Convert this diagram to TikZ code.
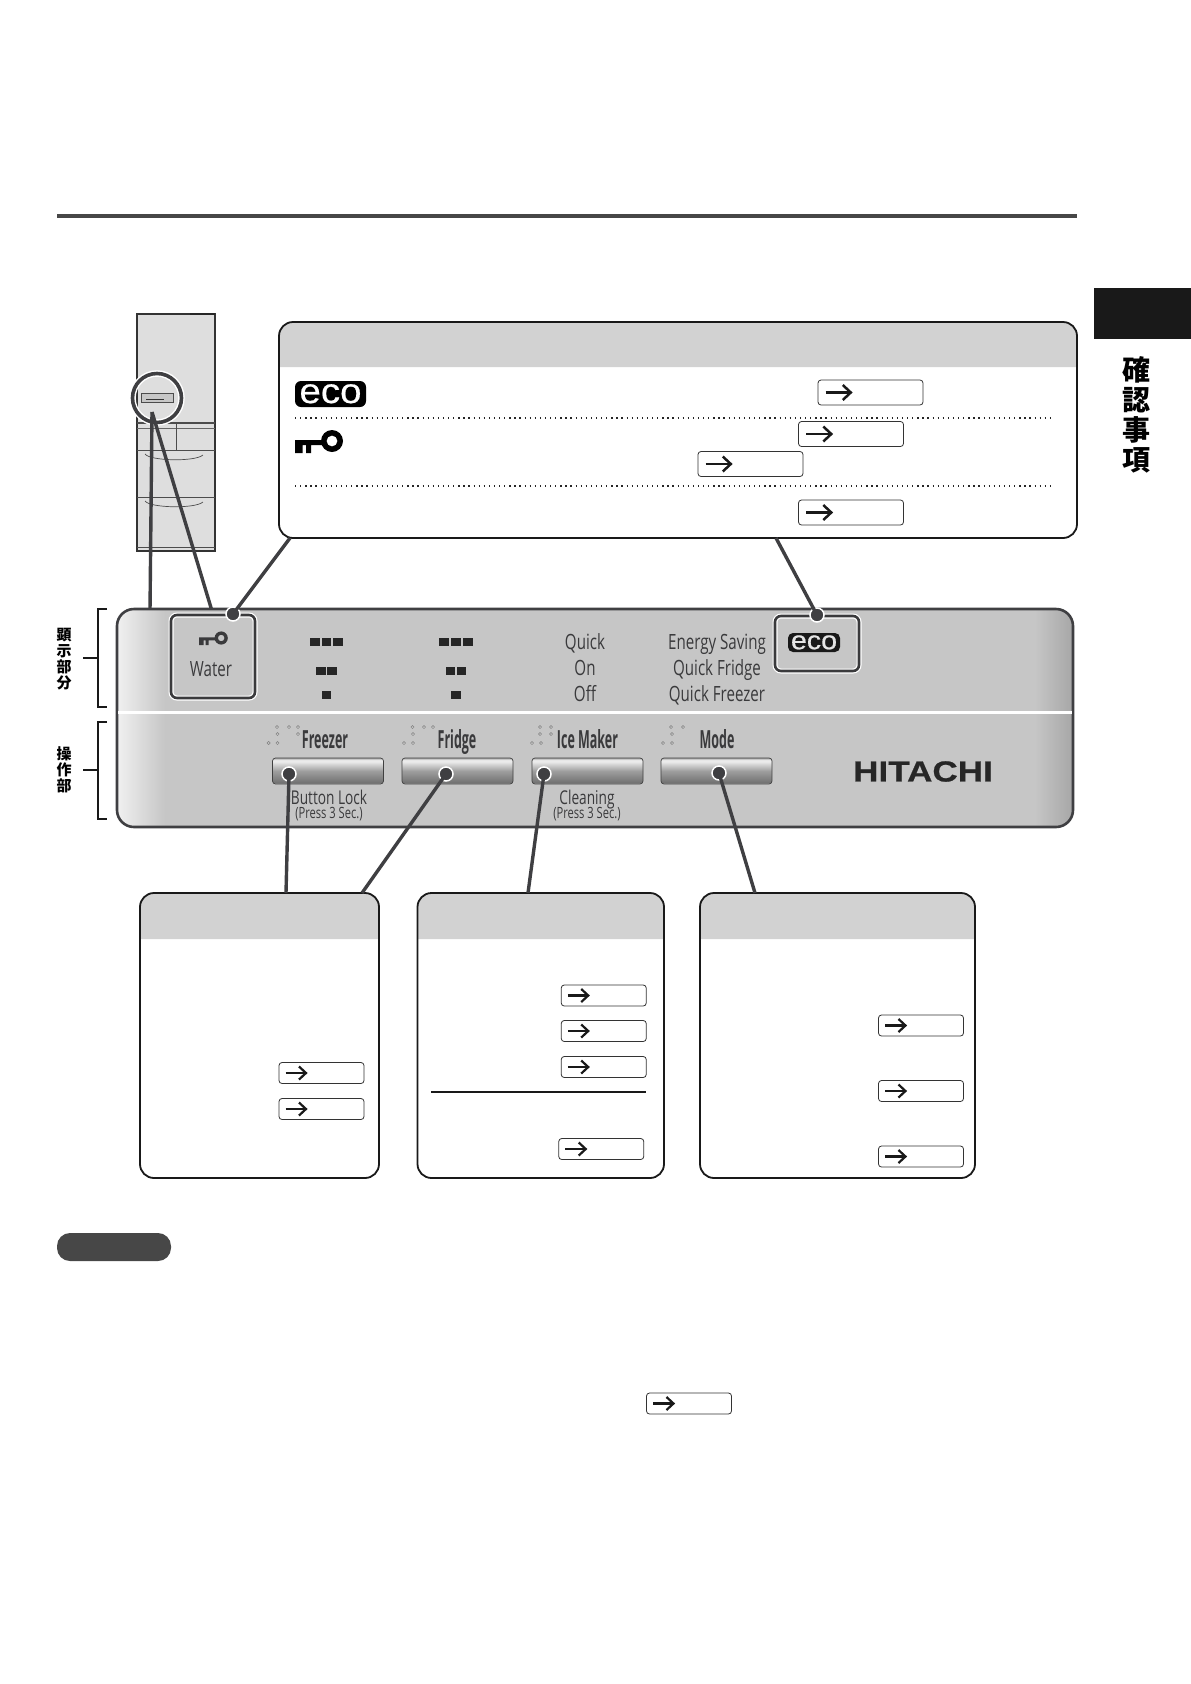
\documentclass[tikz,border=0pt]{standalone}
\usepackage{fontspec}
\usepackage{tikz}
\usetikzlibrary{arrows.meta}

\newfontfamily\panelfont[FakeStretch=0.72]{Open Sans}
\newfontfamily\buttonfont[FakeStretch=0.5]{Open Sans}
\newfontfamily\logofont[FakeStretch=1.21,FakeBold=0.6]{Liberation Sans}
\newfontfamily\ecofont[FakeStretch=1.1,FakeBold=0.5]{Liberation Sans}
\newfontfamily\cjkfont{Noto Sans CJK JP}

\definecolor{headgray}{HTML}{D2D2D2}
\definecolor{leadgray}{HTML}{3F3F42}
\definecolor{panelgray}{HTML}{C6C6C6}
\definecolor{inkgray}{HTML}{3A3A3C}

\pgfdeclarehorizontalshading{panelshade}{100bp}{color(0bp)=(white!75!panelgray); color(25bp)=(white!75!panelgray); color(27.5bp)=(panelgray); color(73bp)=(panelgray); color(75bp)=(black!16!panelgray); color(100bp)=(black!16!panelgray)}
\pgfdeclareverticalshading{buttonshade}{100bp}{color(0bp)=(black!20); color(25bp)=(black!20); color(28bp)=(black!55); color(50bp)=(black!38); color(68bp)=(black!8); color(71bp)=(black!8); color(75bp)=(black!35); color(100bp)=(black!35)}

\tikzset{
  calloutbox/.style={draw=black!90, line width=1.8pt, rounded corners=14pt, inner sep=0pt, outer sep=0pt},
  refbox/.style={draw=black!80, line width=0.8pt, rounded corners=3pt, fill=white, inner sep=0pt, minimum width=85pt, minimum height=21pt},
  bigrefbox/.style={refbox, minimum width=105pt, minimum height=25pt},
  refarrow/.style={-{Straight Barb[length=7pt,width=13pt,line width=2.2pt]}, line width=2.3pt, black!90},
  bigrefarrow/.style={-{Straight Barb[length=8pt,width=15pt,line width=2.5pt]}, line width=2.6pt, black!90},
  leader/.style={draw=leadgray, line width=3.4pt},
  leaderdot/.style={circle, fill=leadgray, draw=white, line width=1.5pt, inner sep=0pt, minimum size=14pt},
  panelbutton/.style={draw=black!75, line width=0.7pt, rounded corners=3pt, shading=buttonshade, inner sep=0pt, minimum width=111pt, minimum height=26pt},
  lampbox/.style={draw=inkgray, line width=2.6pt, rounded corners=6pt, inner sep=0pt, preaction={draw=white, line width=5pt}},
  panellabel/.style={font=\panelfont\fontsize{21}{21}\selectfont, text=inkgray, inner sep=0pt, anchor=base},
  buttonlabel/.style={font=\buttonfont\bfseries\fontsize{25}{25}\selectfont, text=inkgray, inner sep=0pt, anchor=base},
  lowerlabel/.style={panellabel, font=\panelfont\fontsize{19}{19}\selectfont},
  subnote/.style={panellabel, font=\panelfont\fontsize{15.5}{15.5}\selectfont},
  bracketline/.style={draw=black!90, line width=1.6pt},
  keyicon/.pic={
    \fill[even odd rule] (37,10) circle (11) (37,10) circle (5.5);
    \fill (0,9) -- (28,9) -- (28,14) -- (16,14) -- (16,22) -- (11,22) -- (11,14) -- (7.5,14) -- (7.5,22) -- (0,22) -- cycle;
  }
}

\begin{document}
\begin{tikzpicture}[x=1pt,y=-1pt]
  \useasboundingbox (0,0) rectangle (1191,1684);

  % Heading rule and side tab
  \draw[line width=4pt, black!72] (57,216) -- (1077,216);
  \fill[black!90] (1094,288) rectangle (1191,339);
  \node[font=\cjkfont\bfseries\fontsize{28}{30}\selectfont, align=center, inner sep=0pt] (tabtitle) at (1136,415) {確\\認\\事\\項};

  % Fridge
  \fill[black!13] (137,314) rectangle (215,551);
  \draw[line width=1.1pt, black!80] (137,314) -- (215,314) -- (215,551) -- (137,551) -- cycle;
  \draw[line width=2pt, black!85] (190,314) -- (215,314);
  \draw[line width=2pt, black!70] (137,423) -- (215,423);
  \draw[line width=0.6pt, black!60] (137,428) -- (215,428);
  \draw[line width=0.9pt, black!70] (176,423) -- (176,450);
  \draw[line width=1pt, black!70] (137,450) -- (215,450) (137,497) -- (215,497) (137,547) -- (215,547);
  \draw[line width=0.7pt, black!70] (145,454) .. controls (150,461) and (195,462) .. (203,455);
  \draw[line width=0.7pt, black!70] (145,501) .. controls (150,508) and (195,509) .. (203,502);
  \draw[line width=0.6pt, black!70, fill=black!22] (141,393) rectangle (173,402);
  \draw[line width=0.8pt, black!80] (146,399) -- (164,399);
  \node[circle, draw=leadgray, line width=3.6pt, minimum size=49pt, inner sep=0pt, preaction={draw=white, line width=6.5pt}] (zoomring) at (157,398) {};

  % Leaders from the ring down to the panel
  \coordinate (ringtip) at (152,412);
  \coordinate (panelleft) at (150,611);
  \coordinate (panelwater) at (212,611);
  \draw[leader] (ringtip) -- (panelleft);
  \draw[leader] (ringtip) -- (panelwater);

  % Top callout
  \fill[headgray] (279,367) [rounded corners=14pt] -- (279,322) -- (1077,322) [sharp corners] -- (1077,367) -- cycle;
  \node[calloutbox, minimum width=798pt, minimum height=216pt] (topbox) at (678,430) {};
  \draw[line width=1.2pt, black!85, dash pattern=on 1.3pt off 3.8pt] (295,418) -- (1052,418);
  \draw[line width=1.2pt, black!85, dash pattern=on 1.3pt off 3.8pt] (295,486) -- (1052,486);
  \node[fill=black, rounded corners=6pt, text=white, inner sep=0pt, minimum width=71pt, minimum height=26pt, text height=18pt, text depth=0pt, font=\ecofont\fontsize{35}{35}\selectfont] (ecobig) at (330.5,394) {eco};
  \pic at (295,431) {keyicon};
  \foreach \name/\cx/\cy in {eref/870.5/392.5, kref/851/434, lref/750.5/464, qref/851/512.5} {
    \node[bigrefbox] (\name) at (\cx,\cy) {};
    \draw[bigrefarrow] ([xshift=8pt]\name.west) -- ++(27,0);
  }

  % Panel
  \coordinate (topboxleft) at (290,538);
  \coordinate (topboxright) at (776,538);
  \node[draw=leadgray, line width=2.6pt, rounded corners=17pt, shading=panelshade, inner sep=0pt, outer sep=0pt, minimum width=956pt, minimum height=218pt] (panel) at (595,718) {};
  \draw[white, line width=3pt] (118,712) -- (1072,712);

  % Lamp frames
  \node[lampbox, minimum width=84pt, minimum height=83pt] (waterbox) at (213,656.5) {};
  \node[lampbox, minimum width=84pt, minimum height=55pt] (ecobox) at (817,643.5) {};
  \pic[scale=0.6, inkgray] at (199,632) {keyicon};
  \node[panellabel] (waterlabel) at (211,676) {Water};
  \node[fill=black!90, rounded corners=5pt, text=white!90!black, inner sep=0pt, minimum width=52pt, minimum height=19pt, text height=13.5pt, text depth=0pt, font=\ecofont\fontsize{26}{26}\selectfont] (ecosmall) at (814,642.5) {eco};

  % Level squares
  \foreach \cx in {326.5,456} {
    \foreach \dx in {-11.7,0,11.7} \fill[black!85] (\cx+\dx-4.9,638) rectangle (\cx+\dx+4.9,646);
    \foreach \dx in {-5.6,5.6} \fill[black!85] (\cx+\dx-4.7,667) rectangle (\cx+\dx+4.7,675);
    \fill[black!85] (\cx-4.7,691) rectangle (\cx+4.7,699);
  }

  % Panel labels
  \node[panellabel] (quicklabel) at (585,649) {Quick};
  \node[panellabel] (onlabel) at (585,675) {On};
  \node[panellabel] (offlabel) at (585,701) {Off};
  \node[panellabel] (savinglabel) at (717,649) {Energy Saving};
  \node[panellabel] (qfridgelabel) at (717,675) {Quick Fridge};
  \node[panellabel] (qfreezerlabel) at (717,701) {Quick Freezer};

  % Braille dots
  \foreach \x/\y in {277/727,289/727,298/727,277.5/734,298/734,268.6/743,277.5/743,
    412.5/727,424/727,433/727,413/734,404/743,413/743,
    540/727,551/727,540/734,551/734,532/743,541/743,
    671/727,683/727,672/734,663/743,672/743}
    \draw[black!50, line width=0.5pt] (\x,\y) circle (1.6);

  % Buttons
  \node[buttonlabel] (freezerlabel) at (325,748) {Freezer};
  \node[buttonlabel] (fridgelabel) at (457,748) {Fridge};
  \node[buttonlabel] (icelabel) at (587.5,748) {Ice Maker};
  \node[buttonlabel] (modelabel) at (717,748) {Mode};
  \node[panelbutton] (freezerbtn) at (328,771) {};
  \node[panelbutton] (fridgebtn) at (457.5,771) {};
  \node[panelbutton] (icebtn) at (587.5,771) {};
  \node[panelbutton] (modebtn) at (716.5,771) {};
  \node[lowerlabel] (locklabel) at (329,804) {Button Lock};
  \node[subnote] (lockpress) at (329,818) {(Press 3 Sec.)};
  \node[lowerlabel] (cleanlabel) at (587,804) {Cleaning};
  \node[subnote] (cleanpress) at (587,818) {(Press 3 Sec.)};
  \node[font=\logofont\bfseries\fontsize{29}{29}\selectfont, text=black!85, inner sep=0pt] (brand) at (923,771.5) {HITACHI};

  % Lower callouts
  \foreach \xa/\xb in {140/379, 417.5/664, 700/975}
    \fill[headgray] (\xa,939) [rounded corners=14pt] -- (\xa,893) -- (\xb,893) [sharp corners] -- (\xb,939) -- cycle;
  \node[calloutbox, minimum width=239pt, minimum height=285pt] (freezerbox) at (259.5,1035.5) {};
  \node[calloutbox, minimum width=246.5pt, minimum height=285pt] (icebox) at (540.75,1035.5) {};
  \node[calloutbox, minimum width=275pt, minimum height=285pt] (modebox) at (837.5,1035.5) {};
  \draw[line width=1.6pt, black!90] (431,1092) -- (646,1092);
  \foreach \name/\cx/\cy in {fzref/321.5/1073, frref/321.5/1109, iaref/603.75/995.5, ibref/603.75/1031, icref/603.75/1067, idref/601.25/1149, maref/921/1025.5, mbref/921/1091, mcref/921/1156.5, noteref/689/1403.5} {
    \node[refbox] (\name) at (\cx,\cy) {};
    \draw[refarrow] ([xshift=7pt]\name.west) -- ++(22,0);
  }

  % Leaders with dots
  \node[leaderdot] (waterdot) at (233,614) {};
  \node[leaderdot] (ecodot) at (817,615) {};
  \node[leaderdot] (freezerdot) at (289,774) {};
  \node[leaderdot] (fridgedot) at (446,774) {};
  \node[leaderdot] (icedot) at (544,774) {};
  \node[leaderdot] (modedot) at (719,773) {};
  \coordinate (fzend) at (286,893);
  \coordinate (frend) at (362,893);
  \coordinate (iceend) at (528,893);
  \coordinate (modeend) at (755,893);
  \draw[leader] (waterdot.center) -- (topboxleft);
  \draw[leader] (ecodot.center) -- (topboxright);
  \draw[leader] (freezerdot.center) -- (fzend);
  \draw[leader] (fridgedot.center) -- (frend);
  \draw[leader] (icedot.center) -- (iceend);
  \draw[leader] (modedot.center) -- (modeend);

  % Side brackets
  \draw[bracketline] (107,609) -- (98,609) -- (98,707) -- (107,707);
  \draw[bracketline] (83,658) -- (98,658);
  \draw[bracketline] (107,722) -- (98,722) -- (98,819) -- (107,819);
  \draw[bracketline] (83,770) -- (98,770);
  \node[font=\cjkfont\bfseries\fontsize{15}{16}\selectfont, align=center, inner sep=0pt] (displaylabel) at (64,659) {顕\\示\\部\\分};
  \node[font=\cjkfont\bfseries\fontsize{15}{16}\selectfont, align=center, inner sep=0pt] (controllabel) at (64,770) {操\\作\\部};

  % Note pill
  \node[fill=black!72, rounded corners=13pt, inner sep=0pt, minimum width=114pt, minimum height=28pt] (notepill) at (114,1247) {};
\end{tikzpicture}
\end{document}
